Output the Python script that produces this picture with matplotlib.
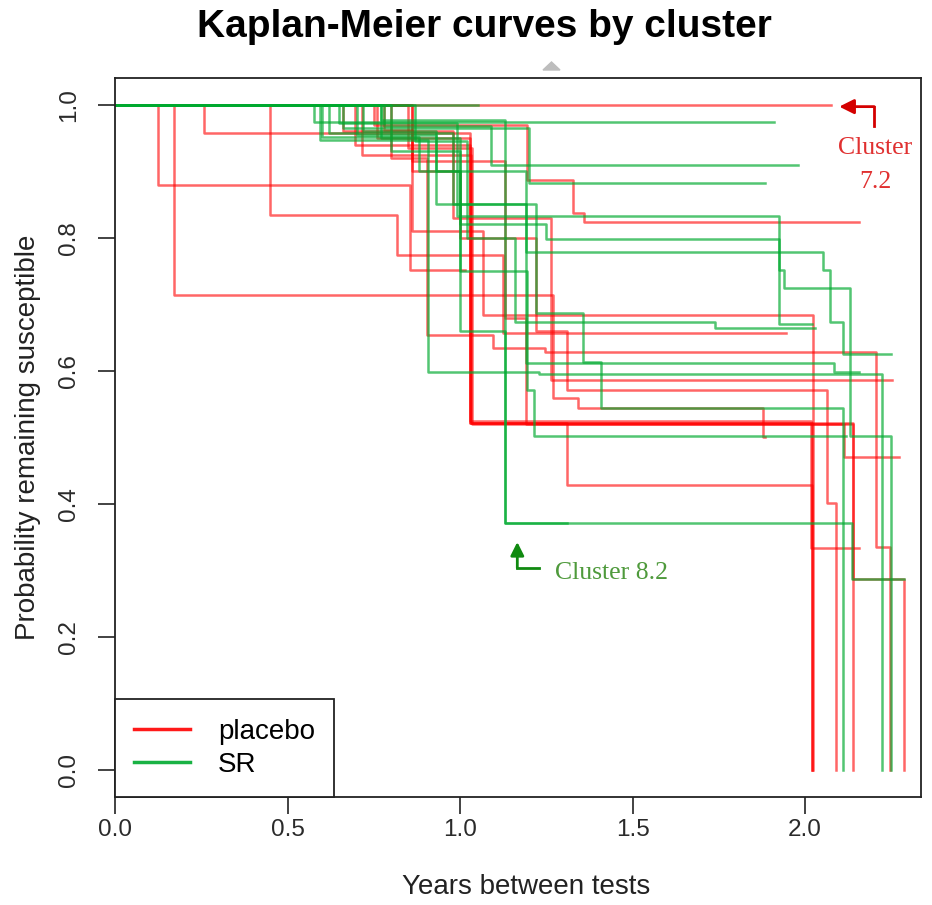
import matplotlib.pyplot as plt
from matplotlib.patches import Polygon

plt.rcParams['font.family'] = ['Liberation Sans', 'DejaVu Sans']

# Kaplan-Meier step curves, one per cluster:
# event times (years), survival right after each event, last follow-up time
placebo_times = [
    [],
    [0.124, 0.855],
    [0.170, 1.270, 1.342, 1.879],
    [0.448, 0.817, 1.125],
    [0.257, 1.030, 2.020],
    [0.697, 1.030, 2.017],
    [0.716, 1.032, 1.309, 2.020],
    [0.850, 1.035, 2.114],
    [0.780, 0.860, 1.067, 2.022],
    [0.800, 0.905, 1.096, 1.246, 2.205, 2.246],
    [0.660, 0.980, 1.265],
    [0.860, 1.000, 1.220, 1.309, 2.065, 2.090],
    [0.750, 1.193, 1.326, 1.360],
    [0.760, 1.030, 2.140],
    [0.860, 1.130, 1.190, 2.140, 2.287],
]
placebo_surv = [
    [],
    [0.879, 0.752],
    [0.714, 0.559, 0.544, 0.501],
    [0.834, 0.774, 0.657],
    [0.957, 0.522, 0.0],
    [0.940, 0.525, 0.334],
    [0.925, 0.522, 0.429, 0.0],
    [0.935, 0.520, 0.471],
    [0.962, 0.810, 0.684, 0.0],
    [0.920, 0.654, 0.634, 0.629, 0.336, 0.0],
    [0.960, 0.830, 0.587],
    [0.900, 0.800, 0.660, 0.572, 0.401, 0.0],
    [0.970, 0.887, 0.837, 0.823],
    [0.950, 0.522, 0.0],
    [0.915, 0.680, 0.520, 0.287, 0.0],
]
placebo_end = [2.076, 1.015, 1.885, 1.945, 2.020, 2.155, 2.020, 2.273,
               2.022, 2.246, 2.253, 2.090, 2.155, 2.140, 2.287]

sr_times = [
    [],
    [0.578],
    [0.595, 0.908, 1.230, 2.224],
    [0.770, 1.130, 2.136],
    [0.770, 1.000, 1.130],
    [0.780, 1.090],
    [0.660, 1.200],
    [0.650, 0.990, 1.925, 1.938, 2.130, 2.249],
    [0.720, 0.930, 1.000, 1.250, 1.925],
    [0.600, 0.880, 1.190, 2.052, 2.072, 2.110],
    [0.870, 1.020, 1.160, 1.740],
    [0.700, 0.930, 1.220, 1.356, 1.410, 2.109],
    [0.620, 0.980, 1.190, 2.085],
    [0.800, 1.000, 1.193, 1.215],
]
sr_surv = [
    [],
    [0.974],
    [0.947, 0.599, 0.596, 0.0],
    [0.977, 0.371, 0.287],
    [0.950, 0.660, 0.371],
    [0.968, 0.909],
    [0.965, 0.882],
    [0.972, 0.833, 0.752, 0.724, 0.502, 0.0],
    [0.960, 0.900, 0.820, 0.798, 0.671],
    [0.952, 0.900, 0.778, 0.752, 0.674, 0.626],
    [0.945, 0.800, 0.674, 0.664],
    [0.955, 0.850, 0.687, 0.614, 0.544, 0.0],
    [0.958, 0.850, 0.612, 0.599],
    [0.930, 0.750, 0.572, 0.502],
]
sr_end = [1.053, 1.910, 2.224, 2.287, 1.310, 1.980, 1.884, 2.249,
          2.020, 2.250, 2.030, 2.109, 2.155, 2.120]

RED = '#ff0000'
GREEN = '#00aa30'


def km_step(ax, times, surv, end, color, alpha):
    xs = [0.0] + times + [end]
    ys = [1.0] + surv + [surv[-1] if surv else 1.0]
    ax.step(xs, ys, where='post', color=color, lw=1.8, alpha=alpha)


fig = plt.figure(figsize=(9.32, 9.05), dpi=100)
ax = fig.add_axes([115 / 932, 1 - 797 / 905, 806 / 932, 719 / 905])

for t, s, e in zip(placebo_times, placebo_surv, placebo_end):
    km_step(ax, t, s, e, RED, 0.6)
for t, s, e in zip(sr_times, sr_surv, sr_end):
    km_step(ax, t, s, e, GREEN, 0.68)

ax.set_xlim(0, 2.336)
ax.set_ylim(-0.04, 1.04)
ax.set_xticks([0, 0.5, 1.0, 1.5, 2.0])
ax.set_xticklabels(['0.0', '0.5', '1.0', '1.5', '2.0'])
ax.set_yticks([0, 0.2, 0.4, 0.6, 0.8, 1.0])
ax.set_yticklabels(['0.0', '0.2', '0.4', '0.6', '0.8', '1.0'],
                   rotation=90, va='center')
ax.tick_params(axis='both', length=12, width=1.2, labelsize=17.5,
               color='#222222', labelcolor='#2a2a2a')
ax.tick_params(axis='x', pad=4)
ax.tick_params(axis='y', pad=13)
for sp in ax.spines.values():
    sp.set_linewidth(1.3)
    sp.set_color('#222222')

# legend
ax.plot([], [], color=RED, lw=2.5, alpha=0.9, label='placebo')
ax.plot([], [], color=GREEN, lw=2.5, alpha=0.9, label='SR')
leg = ax.legend(loc='lower left', bbox_to_anchor=(0, 0), borderaxespad=0,
                fontsize=20, fancybox=False, framealpha=1, edgecolor='#222222',
                borderpad=0.7, labelspacing=0.25, handlelength=2.0,
                handletextpad=1.0)
leg.get_frame().set_linewidth(1.3)

# cluster call-outs
ax.annotate('', xy=(2.099, 0.997), xytext=(2.2005, 0.997),
            arrowprops=dict(arrowstyle='-|>', color='#d40000', lw=2,
                            mutation_scale=22, shrinkA=0, shrinkB=0))
ax.plot([2.2005, 2.2005], [0.997, 0.968], color='#d40000', lw=2)
ax.text(2.2035, 0.935, 'Cluster', color='#e03030', fontsize=18.5,
        family='Liberation Serif', ha='center', va='center')
ax.text(2.2035, 0.884, '7.2', color='#e03030', fontsize=18.5,
        family='Liberation Serif', ha='center', va='center')

ax.annotate('', xy=(1.166, 0.343), xytext=(1.166, 0.304),
            arrowprops=dict(arrowstyle='-|>', color='#108a10', lw=2,
                            mutation_scale=20, shrinkA=0, shrinkB=0))
ax.plot([1.166, 1.2285], [0.304, 0.304], color='#108a10', lw=2)
ax.text(1.275, 0.297, 'Cluster 8.2', color='#4f9a3c', fontsize=18.5,
        family='Liberation Serif', ha='left', va='center')

# titles and axis labels
fig.text(484 / 932, 1 - 27 / 905, 'Kaplan-Meier curves by cluster',
         fontsize=28, fontweight='bold', ha='center', va='center')
fig.text(526 / 932, 1 - 887 / 905, 'Years between tests', fontsize=20,
         ha='center', va='center', color='#222222')
fig.text(28 / 932, 1 - 437 / 905, 'Probability remaining susceptible',
         fontsize=20, rotation=90, ha='center', va='center', color='#222222')

fig.add_artist(Polygon([(543 / 932, 1 - 70 / 905), (560 / 932, 1 - 70 / 905),
                        (551.5 / 932, 1 - 62 / 905)],
                       closed=True, transform=fig.transFigure,
                       color='#bdbdbd'))

fig.savefig('out.png', dpi=100)
